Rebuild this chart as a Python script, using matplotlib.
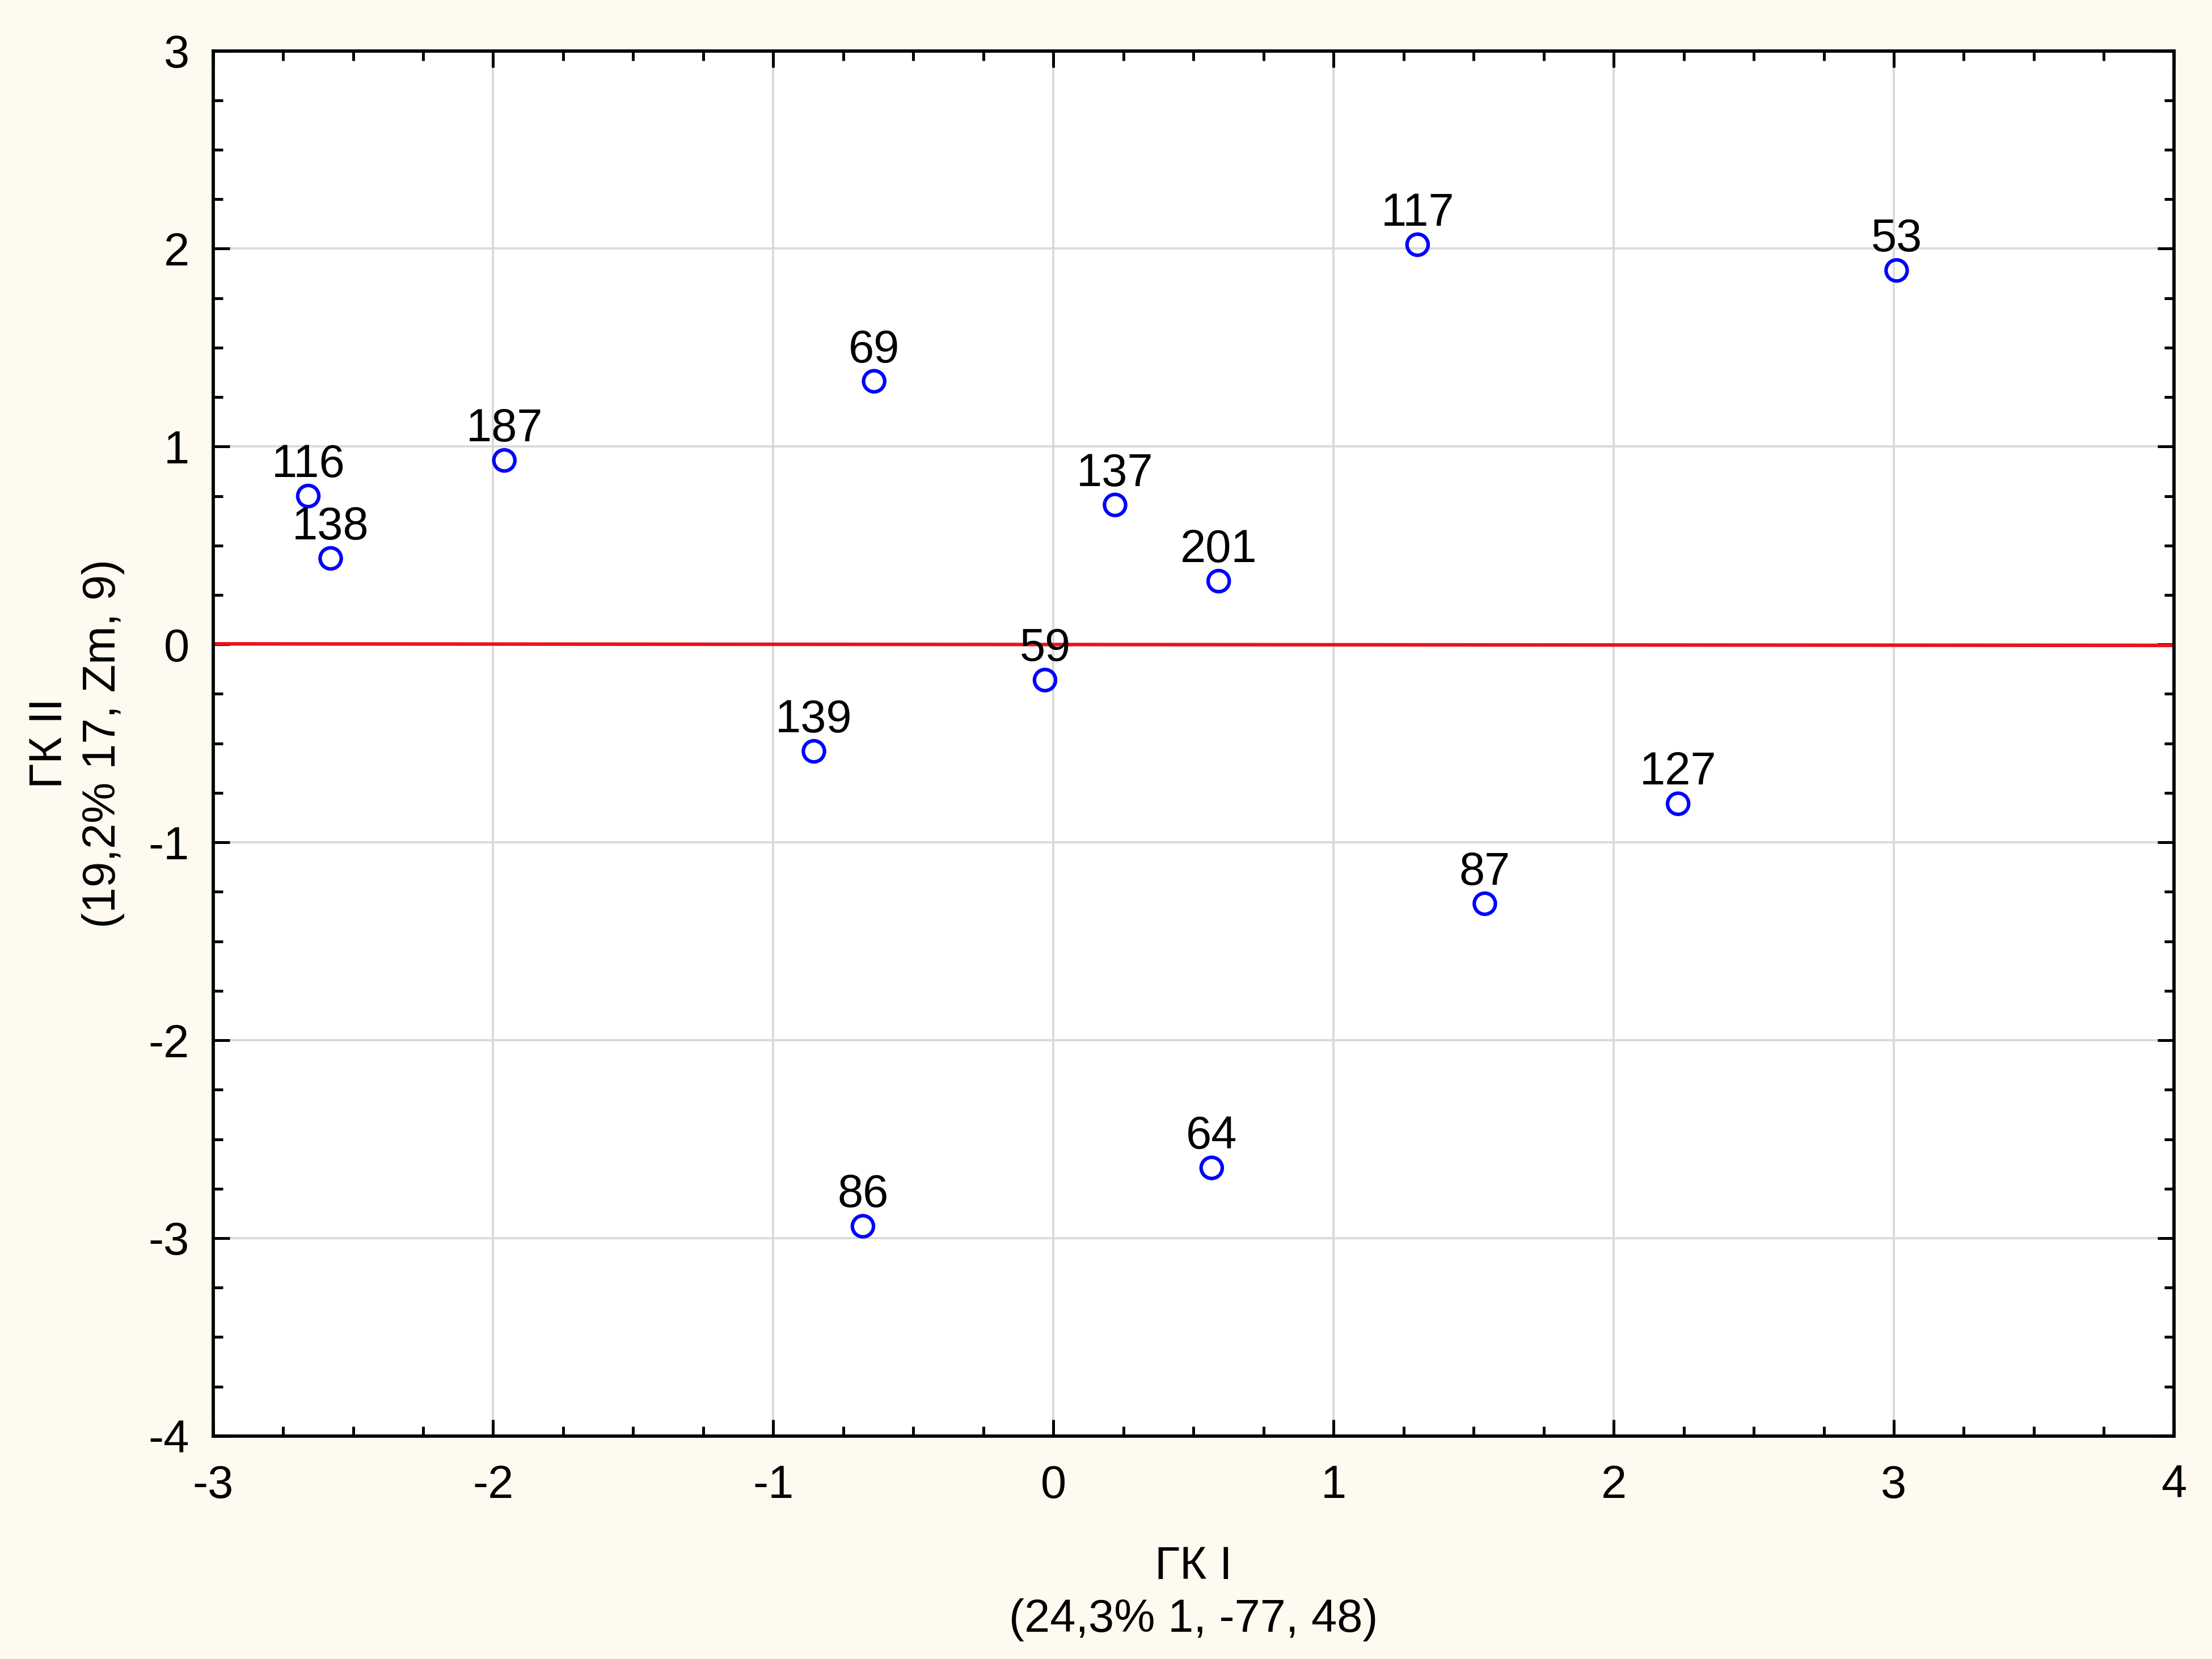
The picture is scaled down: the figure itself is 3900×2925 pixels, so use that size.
import matplotlib

matplotlib.use("Agg")
import matplotlib.pyplot as plt
from matplotlib.ticker import MultipleLocator

# --- dados ---
labels = ["116", "138", "187", "69", "137", "201", "117", "53",
          "59", "139", "127", "87", "64", "86"]
gk1 = [-2.66, -2.58, -1.96, -0.64, 0.22, 0.59, 1.30, 3.01,
       -0.03, -0.855, 2.23, 1.54, 0.565, -0.68]
gk2 = [0.75, 0.435, 0.93, 1.33, 0.705, 0.32, 2.02, 1.89,
       -0.18, -0.54, -0.805, -1.31, -2.645, -2.94]
fit_x = [-3, 4]
fit_y = [0.003, -0.005]

BG = "#fefaf0"
FS = 19.5

plt.rcParams["font.family"] = ["Liberation Sans", "DejaVu Sans"]
plt.rcParams["axes.unicode_minus"] = False

fig = plt.figure(figsize=(13, 9.75), dpi=300, facecolor=BG)
ax = fig.add_axes([0.0963, 0.1344, 0.8865, 0.835])
ax.set_facecolor("white")

ax.grid(which="major", color="#d9d9d9", linewidth=0.9)
ax.set_axisbelow(True)

ax.plot(fit_x, fit_y, color="#e8141c", linewidth=1.5, zorder=2)
ax.scatter(gk1, gk2, s=80, facecolors="none", edgecolors="#0000ff",
           linewidths=1.5, zorder=3)
for x, y, t in zip(gk1, gk2, labels):
    ax.annotate(t, (x, y), xytext=(0, 4), textcoords="offset points",
                ha="center", va="bottom", fontsize=FS, zorder=4)

ax.set_xlim(-3, 4)
ax.set_ylim(-4, 3)
ax.xaxis.set_major_locator(MultipleLocator(1))
ax.xaxis.set_minor_locator(MultipleLocator(0.25))
ax.yaxis.set_major_locator(MultipleLocator(1))
ax.yaxis.set_minor_locator(MultipleLocator(0.25))
ax.tick_params(which="both", direction="in", top=True, right=True,
               labelsize=FS, width=1.2)
ax.tick_params(axis="x", which="major", pad=12)
ax.tick_params(axis="y", which="major", pad=10)
ax.tick_params(which="major", length=7)
ax.tick_params(which="minor", length=4)
for spine in ax.spines.values():
    spine.set_linewidth(1.4)

ax.set_xlabel("ГК I\n(24,3% 1, -77, 48)", fontsize=FS, labelpad=16, linespacing=1.3)
ax.set_ylabel("ГК II\n(19,2% 17, Zm, 9)", fontsize=FS, labelpad=10, linespacing=1.3)

fig.savefig("out.png", dpi=300, facecolor=BG)
